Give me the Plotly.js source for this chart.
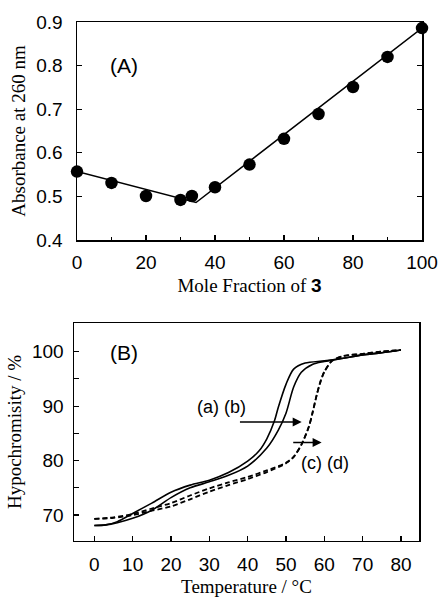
<!DOCTYPE html>
<html>
<head>
<meta charset="utf-8">
<script src="https://cdn.plot.ly/plotly-3.0.1.min.js"></script>
<style>html,body{margin:0;padding:0;background:#fff;}#chart{width:440px;height:597px;}</style>
</head>
<body>
<div id="chart"></div>
<script>
// Panel (A): Job plot
const moleFraction = [0, 10, 20, 30, 33.3, 40, 50, 60, 70, 80, 90, 100];
const absorbance = [0.557, 0.531, 0.501, 0.492, 0.501, 0.521, 0.573, 0.632, 0.689, 0.751, 0.820, 0.886];
const fitX = [0, 34.5, 100];
const fitY = [0.557, 0.486, 0.886];

// Panel (B): melting curves
const tempA = [0, 3, 6, 10, 15, 20, 25, 30, 35, 40, 43, 45, 47, 48, 50, 52, 55, 60, 65, 70, 75, 80];
const hypoA = [68.1, 68.2, 68.8, 70.3, 72.2, 74.2, 75.5, 76.4, 77.8, 79.9, 81.8, 84.0, 87.3, 89.8, 94.0, 96.8, 97.9, 98.3, 98.8, 99.4, 99.8, 100.3];
const tempB = [0, 3, 6, 10, 15, 20, 25, 30, 35, 40, 45, 48, 50, 52, 54, 57, 60, 65, 70, 75, 80];
const hypoB = [68.1, 68.2, 68.6, 69.4, 70.9, 73.2, 75.0, 76.1, 77.3, 79.0, 82.3, 85.6, 88.7, 93.5, 96.2, 97.7, 98.2, 98.8, 99.4, 99.8, 100.3];
const tempCD = [0, 5, 10, 15, 20, 25, 30, 35, 40, 45, 50, 52, 54, 56, 57, 58, 59, 60, 62, 65, 70, 75, 80];
const hypoC = [69.3, 69.6, 70.2, 71.2, 72.2, 73.6, 74.9, 76.0, 77.0, 78.2, 79.6, 80.7, 82.9, 86.3, 89.0, 92.0, 94.5, 96.3, 98.3, 99.2, 99.6, 100.0, 100.3];
const hypoD = [69.3, 69.5, 70.0, 70.8, 71.6, 72.9, 74.3, 75.5, 76.6, 77.9, 79.5, 80.7, 82.9, 86.3, 89.0, 92.0, 94.5, 96.3, 98.3, 99.2, 99.6, 100.0, 100.3];

const sans = 'Liberation Sans, Arial, sans-serif';
const serif = 'Liberation Serif, Times New Roman, serif';

const solid = {color: '#000', width: 1.6, shape: 'spline', smoothing: 0.8};
const dashed = {color: '#000', width: 1.8, dash: '5px,3px', shape: 'spline', smoothing: 0.8};

const traces = [
  {x: fitX, y: fitY, mode: 'lines', line: {color: '#000', width: 1.5}, xaxis: 'x', yaxis: 'y'},
  {x: moleFraction, y: absorbance, mode: 'markers', marker: {color: '#000', size: 12.5}, xaxis: 'x', yaxis: 'y', cliponaxis: false},
  {x: tempA, y: hypoA, mode: 'lines', line: solid, xaxis: 'x2', yaxis: 'y2'},
  {x: tempB, y: hypoB, mode: 'lines', line: solid, xaxis: 'x2', yaxis: 'y2'},
  {x: tempCD, y: hypoC, mode: 'lines', line: dashed, xaxis: 'x2', yaxis: 'y2'},
  {x: tempCD, y: hypoD, mode: 'lines', line: dashed, xaxis: 'x2', yaxis: 'y2'}
];

const axCommon = {
  showline: true, linecolor: '#000', linewidth: 1.5, showgrid: false, zeroline: false,
  ticks: 'inside', ticklen: 5, tickwidth: 1.2, tickcolor: '#000',
  tickfont: {family: sans, size: 19, color: '#000'}, automargin: false
};
const titleFont = {family: serif, size: 19, color: '#000'};

const layout = {
  width: 440, height: 597,
  margin: {l: 0, r: 0, t: 0, b: 0},
  paper_bgcolor: '#fff', plot_bgcolor: '#fff',
  showlegend: false,
  xaxis: Object.assign({}, axCommon, {
    domain: [77/440, 422/440], range: [0, 100], anchor: 'y',
    dtick: 20, tick0: 0, mirror: true, ticklabelstandoff: 5,
    minor: {dtick: 10, ticks: 'inside', ticklen: 3, tickcolor: '#000'},
    title: {text: 'Mole Fraction of <b><span style="font-family:Liberation Sans">3</span></b>', font: titleFont, standoff: 6}
  }),
  yaxis: Object.assign({}, axCommon, {
    domain: [1 - 240/597, 1 - 22/597], range: [0.4, 0.9], anchor: 'x',
    dtick: 0.1, tickformat: '.1f', mirror: 'ticks', ticklabelstandoff: 9,
    title: {text: 'Absorbance at 260 nm', font: titleFont, standoff: 5}
  }),
  xaxis2: Object.assign({}, axCommon, {
    domain: [74/440, 419/440], range: [-5.3, 84.7], anchor: 'y2',
    dtick: 10, tick0: 0, mirror: true, ticklabelstandoff: 6,
    title: {text: 'Temperature / °C', font: titleFont, standoff: 8}
  }),
  yaxis2: Object.assign({}, axCommon, {
    domain: [1 - 540.7/597, 1 - 323.3/597], range: [65.3, 105.2], anchor: 'x2',
    tickvals: [70, 80, 90, 100], mirror: true, ticklabelstandoff: 5,
    minor: {tickvals: [75, 85, 95], ticks: 'inside', ticklen: 5, tickcolor: '#000'},
    title: {text: 'Hypochromisity / %', font: titleFont, standoff: 5}
  }),
  annotations: [
    {text: '(A)', xref: 'paper', yref: 'paper', x: 108/440, y: 1 - 52/597, showarrow: false, font: {family: sans, size: 21, color: '#000'}},
    {text: '(B)', xref: 'paper', yref: 'paper', x: 108/440, y: 1 - 352/597, showarrow: false, font: {family: sans, size: 21, color: '#000'}},
    {text: '(a) (b)', xref: 'x2', yref: 'y2', x: 33.2, y: 89.9, showarrow: false, font: {family: sans, size: 18, color: '#000'}},
    {text: '(c) (d)', xref: 'x2', yref: 'y2', x: 60.2, y: 79.5, showarrow: false, font: {family: sans, size: 18, color: '#000'}},
    {text: '', xref: 'x2', yref: 'y2', axref: 'x2', ayref: 'y2', x: 54.1, y: 87.1, ax: 37.6, ay: 87.1, showarrow: true, arrowhead: 2, arrowsize: 1.2, arrowwidth: 1.5, arrowcolor: '#000'},
    {text: '', xref: 'x2', yref: 'y2', axref: 'x2', ayref: 'y2', x: 59.3, y: 83.3, ax: 51.5, ay: 83.3, showarrow: true, arrowhead: 2, arrowsize: 1.2, arrowwidth: 1.5, arrowcolor: '#000'}
  ]
};

Plotly.newPlot('chart', traces, layout, {staticPlot: true, displayModeBar: false});
</script>
</body>
</html>
